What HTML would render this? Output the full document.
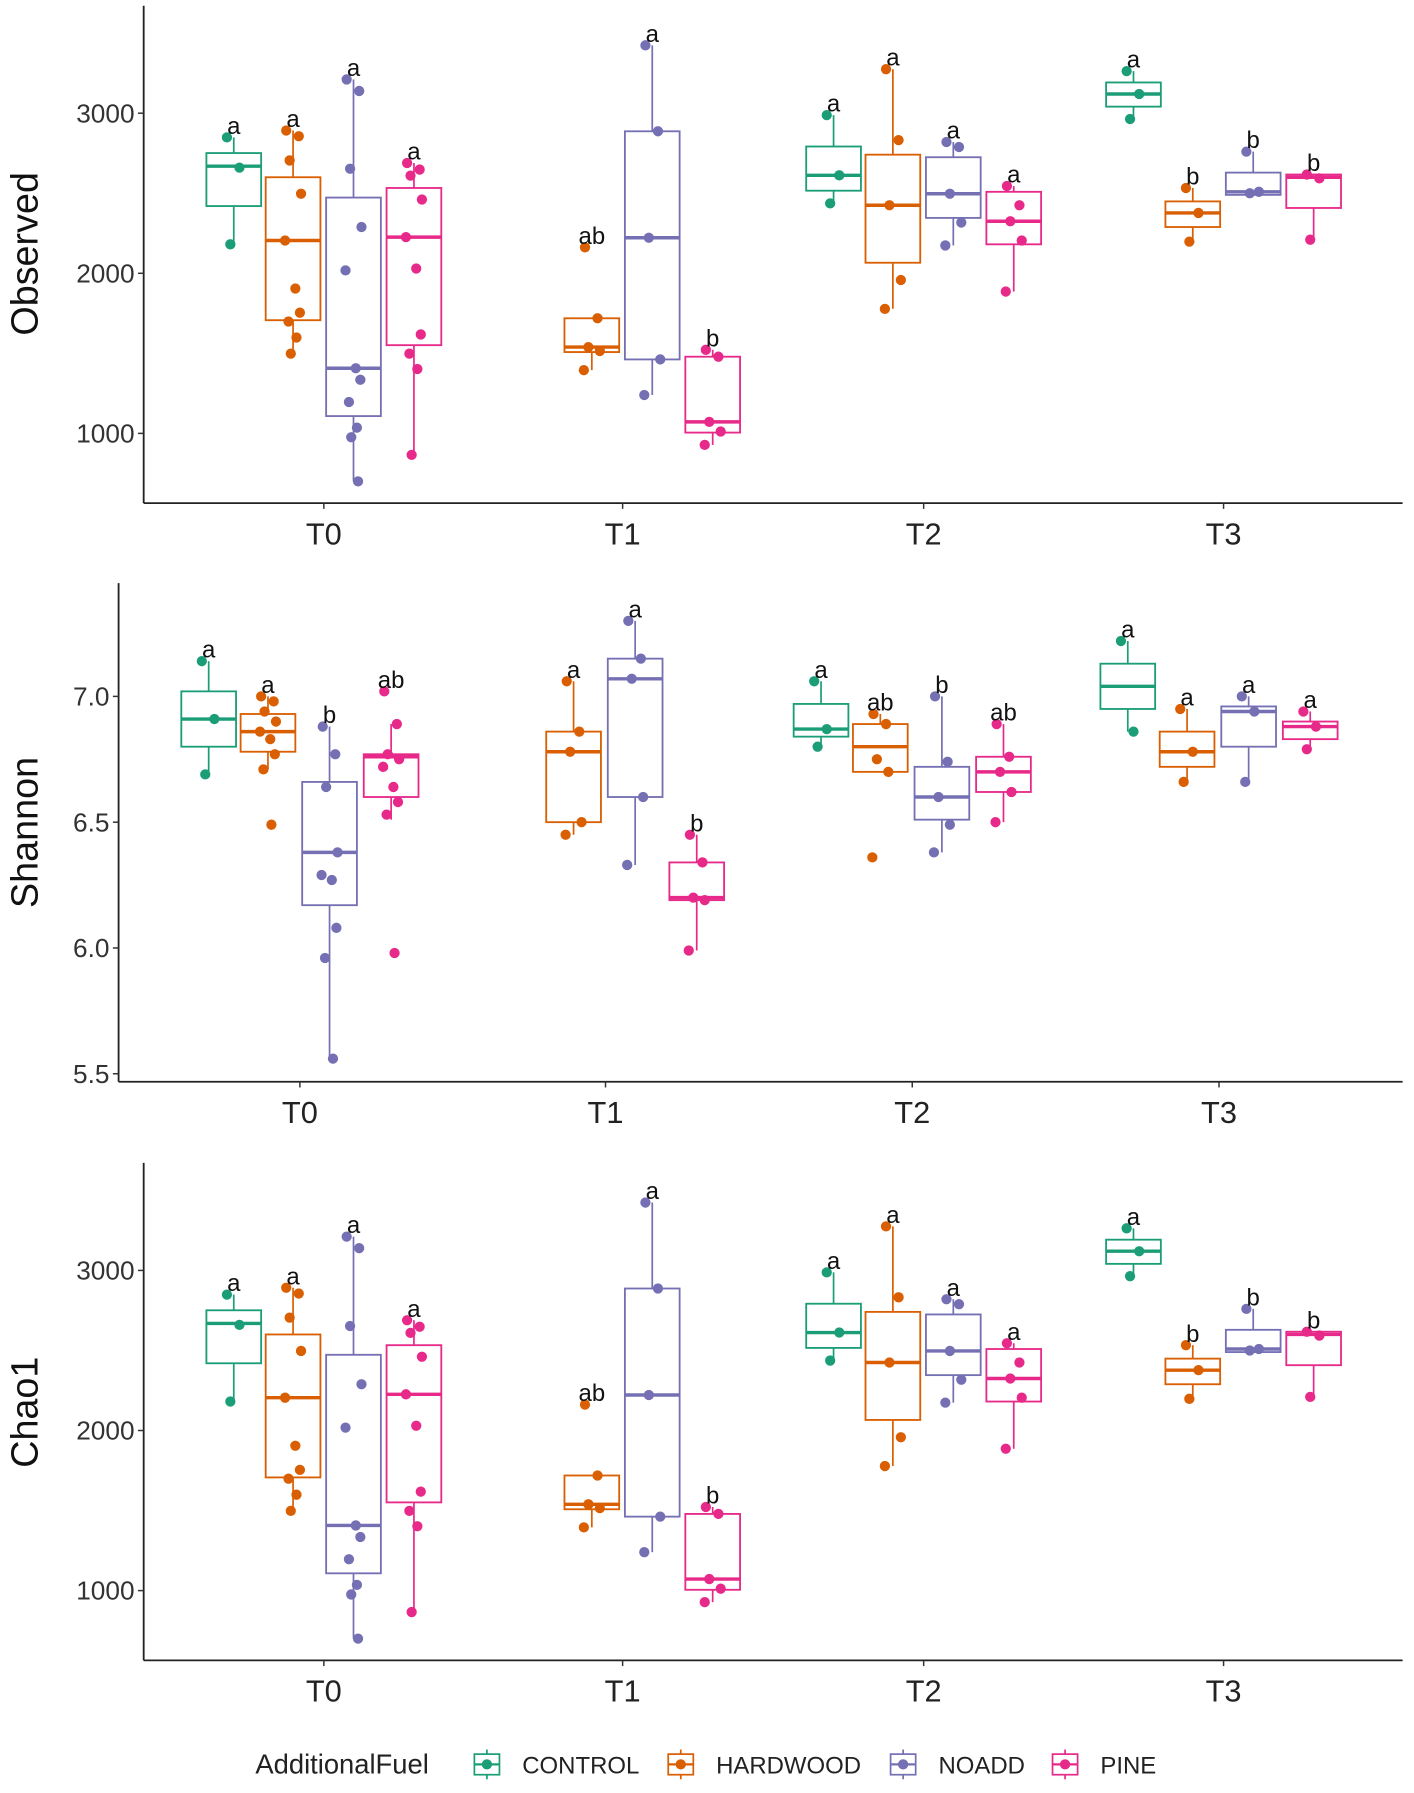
<!DOCTYPE html>
<html><head><meta charset="utf-8"><style>
html,body{margin:0;padding:0;background:#fff}
svg{display:block}
text{font-family:"Liberation Sans",sans-serif}
</style></head><body>
<svg id="chart" width="1414" height="1793" viewBox="0 0 1240 1568" preserveAspectRatio="none" xmlns="http://www.w3.org/2000/svg"></svg>
<script>
const groups = ["CONTROL","HARDWOOD","NOADD","PINE"];
const times = ["T0","T1","T2","T3"];
const colors = ["#1b9e77","#d95f02","#7570b3","#e7298a"];
const obsStats = [
 [[2181,2420,2669,2751,2849],[1498,1707,2205,2600,2892],[700,1108,1407,2473,3211],[866,1551,2226,2533,2689]],
 [null,[1395,1508,1539,1719,1719],[1240,1462,2222,2887,3424],[928,1005,1072,1479,1522]],
 [[2437,2516,2612,2792,2988],[1778,2066,2425,2741,3275],[2174,2346,2497,2725,2820],[1886,2181,2325,2509,2545]],
 [[2964,3041,3120,3192,3263],[2198,2289,2377,2449,2533],[2490,2490,2509,2629,2760],[2210,2408,2600,2617,2617]]
];
const obsPoints = [
 [[2849,2660,2181],[2892,2856,2705,2497,2205,1905,1754,1699,1599,1498],[3211,3139,2653,2289,2018,1407,1335,1196,1036,976,700],[2689,2648,2610,2461,2226,2030,1618,1498,1402,866]],
 [[],[2162,1719,1539,1515,1395],[3424,2887,2222,1462,1240],[1522,1479,1072,1012,928]],
 [[2988,2612,2437],[3275,2832,2425,1958,1778],[2820,2789,2497,2317,2174],[2545,2425,2325,2205,1886]],
 [[3263,3120,2964],[2533,2377,2198],[2760,2509,2500],[2617,2593,2210]]
];
const obsLetters = [["a","a","a","a"],["","ab","a","b"],["a","a","a","a"],["a","b","b","b"]];
const shStats = [
 [[6.69,6.80,6.91,7.02,7.14],[6.71,6.78,6.86,6.93,7.00],[5.56,6.17,6.38,6.66,6.88],[6.51,6.60,6.76,6.77,6.89]],
 [null,[6.45,6.50,6.78,6.86,7.06],[6.33,6.60,7.07,7.15,7.30],[5.99,6.19,6.20,6.34,6.45]],
 [[6.80,6.84,6.87,6.97,7.06],[6.70,6.70,6.80,6.89,6.93],[6.38,6.51,6.60,6.72,7.00],[6.50,6.62,6.70,6.76,6.89]],
 [[6.86,6.95,7.04,7.13,7.22],[6.66,6.72,6.78,6.86,6.95],[6.66,6.80,6.94,6.96,7.00],[6.79,6.83,6.88,6.90,6.94]]
];
const shPoints = [
 [[7.14,6.91,6.69],[7.00,6.98,6.94,6.90,6.86,6.83,6.77,6.71,6.49],[6.88,6.77,6.64,6.38,6.29,6.27,6.08,5.96,5.56],[7.02,6.89,6.77,6.75,6.72,6.64,6.58,6.53,5.98]],
 [[],[7.06,6.86,6.78,6.50,6.45],[7.30,7.15,7.07,6.60,6.33],[6.45,6.34,6.20,6.19,5.99]],
 [[7.06,6.87,6.80],[6.93,6.89,6.75,6.70,6.36],[7.00,6.74,6.60,6.49,6.38],[6.89,6.76,6.70,6.62,6.50]],
 [[7.22,6.86],[6.95,6.78,6.66],[7.00,6.94,6.66],[6.94,6.88,6.79]]
];
const shLetters = [["a","a","b","ab"],["","a","a","b"],["a","ab","b","ab"],["a","a","a","a"]];
const obsTicks = [1000,2000,3000];
const shTicks = [5.5,6.0,6.5,7.0];
const chaoStats = obsStats, chaoPoints = obsPoints, chaoLetters = obsLetters;

const svg = document.getElementById('chart');
const NS = "http://www.w3.org/2000/svg";
function mk(tag, attrs, parent){const e=document.createElementNS(NS,tag);for(const k in attrs)e.setAttribute(k,attrs[k]);(parent||svg).appendChild(e);return e;}
const jit=[-6,5,-3,7,-7,2,6,-4,3,-2,4];

function panel(cfg){
  const g=mk('g',{});
  
  
  const y=v=>cfg.y0+(cfg.v0-v)*cfg.k;
  const xc=(t,gi)=>cfg.xs[t]+cfg.offs[gi];
  const ya=mk('line',{x1:cfg.ax,y1:cfg.top,x2:cfg.ax,y2:cfg.bot,stroke:'#222','stroke-width':1.6},g);
  
  
  const xa=mk('line',{x1:cfg.ax,y1:cfg.bot,x2:1230,y2:cfg.bot,stroke:'#222','stroke-width':1.6},g);
  
  
  cfg.ticks.forEach(tv=>{
    mk('line',{x1:cfg.ax-5,y1:y(tv),x2:cfg.ax,y2:y(tv),stroke:'#333','stroke-width':1.3},g);
    const t=mk('text',{x:cfg.ax-8,y:y(tv)+8,'text-anchor':'end','font-size':23,fill:'#333'},g);
    t.textContent=cfg.fmt(tv);
    
    
  });
  times.forEach((tn,ti)=>{
    mk('line',{x1:cfg.xs[ti],y1:cfg.bot,x2:cfg.xs[ti],y2:cfg.bot+5,stroke:'#333','stroke-width':1.3},g);
    const t=mk('text',{x:cfg.xs[ti],y:cfg.bot+36,'text-anchor':'middle','font-size':27,fill:'#222'},g);
    t.textContent=tn;
    
    
  });
  const tt=mk('text',{x:0,y:0,'text-anchor':'middle','font-size':33,fill:'#111',transform:`translate(33,${cfg.titleY}) rotate(-90)`},g);
  tt.textContent=cfg.title;
  
  
  const bw=48;
  times.forEach((tn,ti)=>{groups.forEach((gn,gi)=>{
    const s=cfg.stats[ti][gi]; const c=colors[gi]; const x=xc(ti,gi);
    if(s){
      const bx=mk('g',{},g);
      
      
      mk('line',{x1:x,y1:y(s[4]),x2:x,y2:y(s[3]),stroke:c,'stroke-width':1.5},bx);
      mk('line',{x1:x,y1:y(s[1]),x2:x,y2:y(s[0]),stroke:c,'stroke-width':1.5},bx);
      mk('rect',{x:x-bw/2,y:y(s[3]),width:bw,height:Math.max(1,y(s[1])-y(s[3])),fill:'#fff',stroke:c,'stroke-width':1.6},bx);
      mk('line',{x1:x-bw/2,y1:y(s[2]),x2:x+bw/2,y2:y(s[2]),stroke:c,'stroke-width':3},bx);
    }
    cfg.pts[ti][gi].forEach((v,i)=>{
      const p=mk('circle',{cx:x+jit[i%jit.length],cy:y(v),r:4.5,fill:c},g);
      
      
    });
    const L=cfg.letters[ti][gi];
    if(L){
      const top=Math.max(s?s[4]:-1e9,...cfg.pts[ti][gi]);
      const lt=mk('text',{x:x,y:y(top)-3,'text-anchor':'middle','font-size':21,fill:'#111'},g);
      lt.textContent=L;
      
      
    }
  });});
}
panel({name:'observed',title:'Observed',titleY:222,ax:126,top:5,bot:440,y0:99,v0:3000,k:0.14,xs:[284,546,810,1073],offs:[-79,-27,26,79],ticks:obsTicks,fmt:v=>String(v),stats:obsStats,pts:obsPoints,letters:obsLetters});
panel({name:'shannon',title:'Shannon',titleY:728,ax:104,top:510,bot:946,y0:609,v0:7.0,k:220,xs:[263,531,800,1069],offs:[-80,-28,26,80],ticks:shTicks,fmt:v=>v.toFixed(1),stats:shStats,pts:shPoints,letters:shLetters});
panel({name:'chao1',title:'Chao1',titleY:1235,ax:126,top:1017,bot:1452,y0:1111,v0:3000,k:0.14,xs:[284,546,810,1073],offs:[-79,-27,26,79],ticks:obsTicks,fmt:v=>String(v),stats:chaoStats,pts:chaoPoints,letters:chaoLetters});

const lg=mk('g',{});


const lt=mk('text',{x:224,y:1551,'font-size':24,fill:'#222'},lg);
lt.textContent='AdditionalFuel';


const kx=[427,597,792,934];
groups.forEach((gn,gi)=>{
  const e=mk('g',{},lg);
  
  
  const c=colors[gi], x=kx[gi];
  mk('line',{x1:x,y1:1530,x2:x,y2:1556,stroke:c,'stroke-width':1.5},e);
  mk('rect',{x:x-11,y:1534,width:22,height:18,fill:'#fff',stroke:c,'stroke-width':1.5},e);
  mk('line',{x1:x-11,y1:1543,x2:x+11,y2:1543,stroke:c,'stroke-width':2},e);
  mk('circle',{cx:x,cy:1543,r:4.5,fill:c},e);
  const t=mk('text',{x:x+31,y:1551,'font-size':21,fill:'#222'},e);
  t.textContent=gn;
});
</script>
</body></html>
